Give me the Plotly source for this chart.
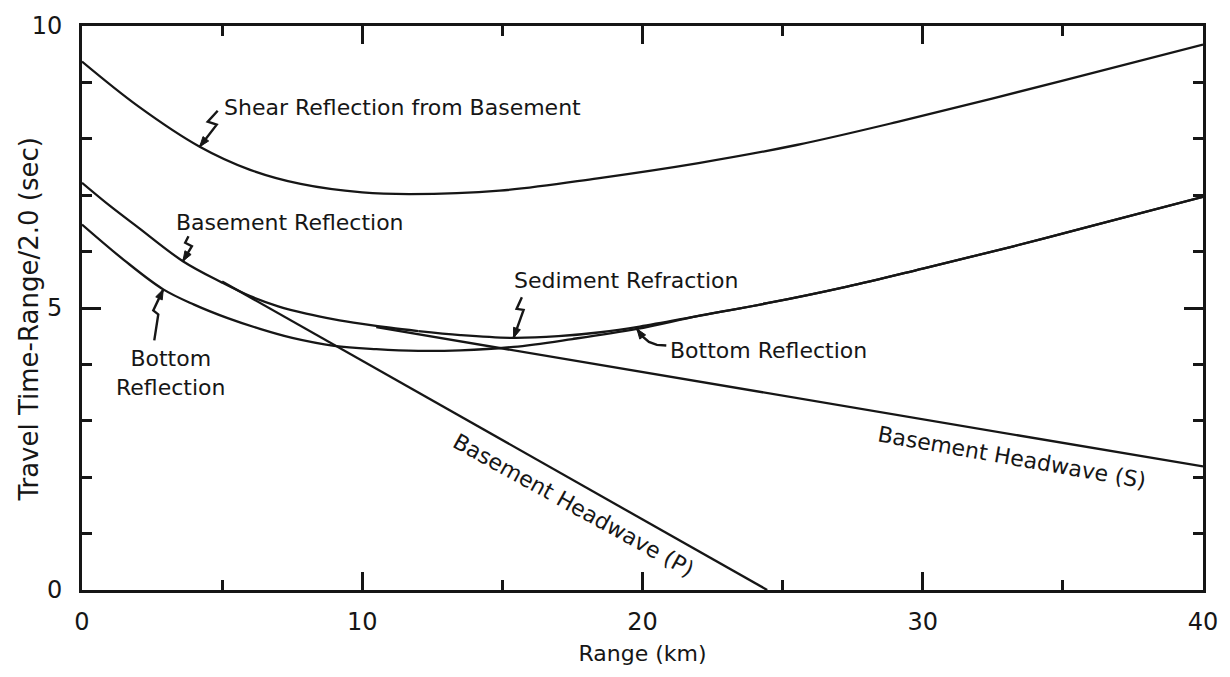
import math
import plotly.graph_objects as go

# Travel-time curves, reduced time = t - range/2.0 (sec) versus range (km)
shear_x = [0, 2, 4.2, 6, 7.8, 10, 11.7, 14.9, 18.4, 22, 25.5, 29.1, 35, 40]
shear_y = [9.37, 8.58, 7.86, 7.45, 7.20, 7.05, 7.02, 7.08, 7.30, 7.57, 7.89, 8.30, 9.03, 9.67]

basement_x = [0, 1, 2, 3.6, 5, 6, 7, 8, 9, 10, 11, 12]
basement_y = [7.22, 6.81, 6.43, 5.83, 5.45, 5.21, 5.03, 4.90, 4.80, 4.72, 4.65, 4.59]

sediment_x = [12, 13.5, 15.4, 17, 18.5, 19.9, 22, 24.4, 27.3, 30, 33.2, 36, 40]
sediment_y = [4.59, 4.52, 4.47, 4.50, 4.57, 4.67, 4.86, 5.08, 5.38, 5.70, 6.09, 6.45, 6.97]

bottom_x = [0, 1.5, 2.9, 4, 5.2, 6.35, 7.5, 9, 10.5, 12, 13.5, 15.4, 17.5, 19.8,
            22, 24.4, 27.3, 30, 33.2, 36, 40]
bottom_y = [6.48, 5.85, 5.33, 5.06, 4.82, 4.63, 4.47, 4.33, 4.27, 4.24, 4.25, 4.31, 4.45, 4.63,
            4.86, 5.08, 5.38, 5.70, 6.09, 6.45, 6.97]

head_p_x = [5.0, 24.45]
head_p_y = [5.47, 0.0]

head_s_x = [10.5, 40.0]
head_s_y = [4.66, 2.19]

x_ticks = [0, 10, 20, 30, 40]
x_minor = [5, 15, 25, 35]
y_ticks = [0, 5, 10]
y_minor = [1, 2, 3, 4, 6, 7, 8, 9]

INK = "#161616"
FONT = "DejaVu Sans"

fig = go.Figure()

for xs, ys, shape in [
    (shear_x, shear_y, "spline"),
    (basement_x, basement_y, "spline"),
    (sediment_x, sediment_y, "spline"),
    (bottom_x, bottom_y, "spline"),
    (head_p_x, head_p_y, "linear"),
    (head_s_x, head_s_y, "linear"),
]:
    fig.add_trace(go.Scatter(
        x=xs, y=ys, mode="lines",
        line=dict(color=INK, width=2.3, shape=shape, smoothing=1.0),
        showlegend=False, hoverinfo="skip",
    ))


def leader(xa, ya, pts):
    """Zig-zag leader (pixel offsets from the anchor, y upward) ending in a filled head."""
    path = "M " + " L ".join(f"{dx},{dy}" for dx, dy in pts)
    fig.add_shape(type="path", xref="x", yref="y", xsizemode="pixel", ysizemode="pixel",
                  xanchor=xa, yanchor=ya, path=path, line=dict(color=INK, width=2.4))
    (px, py), (tx, ty) = pts[-2], pts[-1]
    d = math.hypot(px - tx, py - ty)
    ux, uy = (px - tx) / d, (py - ty) / d
    bx, by = tx + ux * 10, ty + uy * 10
    nx, ny = -uy * 3.6, ux * 3.6
    head = f"M {tx},{ty} L {bx + nx:.2f},{by + ny:.2f} L {bx - nx:.2f},{by - ny:.2f} Z"
    fig.add_shape(type="path", xref="x", yref="y", xsizemode="pixel", ysizemode="pixel",
                  xanchor=xa, yanchor=ya, path=head, fillcolor=INK,
                  line=dict(color=INK, width=1))


leader(shear_x[2], shear_y[2], [(18, 36), (8, 25), (17, 22), (0, 0)])
leader(basement_x[3], basement_y[3], [(5.6, 25), (2.3, 18.4), (9, 15), (0, 0)])
leader(bottom_x[2], bottom_y[2], [(-9, -51), (-5, -25), (-10, -21), (0, 0)])
leader(sediment_x[2], sediment_y[2], [(8.3, 40.7), (3, 29), (10, 28), (0, 0)])
leader(bottom_x[13], bottom_y[13], [(29.4, -16.6), (20, -16), (12, -13), (5, -7), (0, 0)])


def label(x, y, text, anchor="left", angle=0):
    fig.add_annotation(x=x, y=y, xref="x", yref="y", text=text, showarrow=False,
                       xanchor=anchor if angle == 0 else "center", yanchor="middle",
                       textangle=angle, align="center",
                       font=dict(family=FONT, size=22, color=INK))


label(5.0, 8.56, "Shear Reflection from Basement")
label(3.3, 6.51, "Basement Reflection")
label(3.16, 3.84, "Bottom<br>Reflection", anchor="center")
label(15.35, 5.48, "Sediment Refraction")
label(20.92, 4.24, "Bottom Reflection")
label(17.55, 1.50, "Basement Headwave (P)", angle=29)
label(33.18, 2.35, "Basement Headwave (S)", angle=10)

# vertical axis title placed beside the tick labels
fig.add_annotation(x=-0.047, y=0.48, xref="paper", yref="paper",
                   text="Travel Time-Range/2.0 (sec)", showarrow=False, textangle=-90,
                   xanchor="center", yanchor="middle",
                   font=dict(family=FONT, size=26, color=INK))

axis_common = dict(
    showgrid=False, zeroline=False, showline=True, linecolor=INK, linewidth=3,
    mirror="ticks", ticks="inside", tickcolor=INK, tickwidth=2.5,
    tickfont=dict(family=FONT, size=24, color=INK),
)

fig.update_xaxes(
    range=[0, 40], tickvals=x_ticks, ticktext=[str(v) for v in x_ticks], ticklen=18,
    minor=dict(tickvals=x_minor, ticks="inside", ticklen=10, tickwidth=2.5, tickcolor=INK),
    ticklabelstandoff=8,
    title=dict(text="Range (km)", font=dict(family=FONT, size=22, color=INK), standoff=11),
    **axis_common,
)
fig.update_yaxes(
    range=[0, 10], tickvals=y_ticks, ticktext=[str(v) for v in y_ticks], ticklen=19,
    minor=dict(tickvals=y_minor, ticks="inside", ticklen=10, tickwidth=2.5, tickcolor=INK),
    ticklabelstandoff=12,
    **axis_common,
)

fig.update_layout(
    width=1230, height=677, autosize=False,
    margin=dict(l=82, r=23, t=19, b=87),
    paper_bgcolor="white", plot_bgcolor="white",
    font=dict(family=FONT, color=INK),
)

fig.write_html("out.html")
